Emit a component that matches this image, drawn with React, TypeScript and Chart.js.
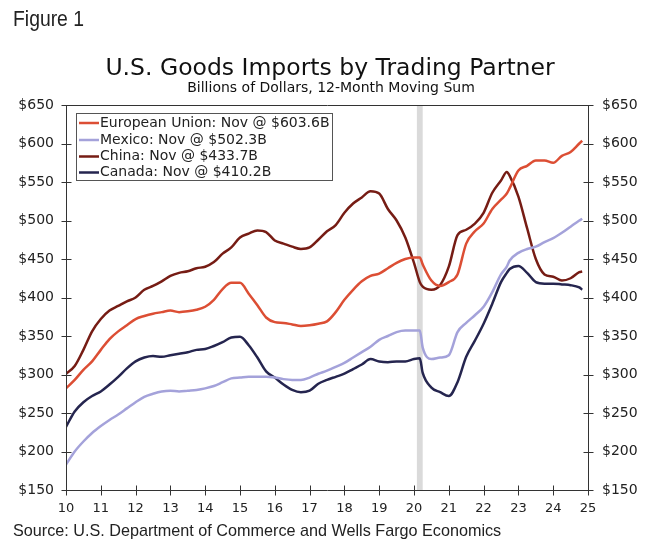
import React, { useEffect, useRef } from "react";
import { Chart, registerables } from "chart.js";

Chart.register(...registerables);

// ---- Data ----
const dates = [
  "2010-01", "2010-04", "2010-07", "2010-10",
  "2011-01", "2011-04", "2011-07", "2011-10",
  "2012-01", "2012-04", "2012-07", "2012-10",
  "2013-01", "2013-04", "2013-07", "2013-10",
  "2014-01", "2014-04", "2014-07", "2014-10",
  "2015-01", "2015-04", "2015-07", "2015-10",
  "2016-01", "2016-04", "2016-07", "2016-10",
  "2017-01", "2017-04", "2017-07", "2017-10",
  "2018-01", "2018-04", "2018-07", "2018-10",
  "2019-01", "2019-04", "2019-07", "2019-10",
  "2020-01", "2020-03", "2020-04", "2020-07", "2020-10",
  "2021-01", "2021-04", "2021-07", "2021-10",
  "2022-01", "2022-04", "2022-07", "2022-09", "2022-10",
  "2023-01", "2023-04", "2023-07", "2023-10",
  "2024-01", "2024-04", "2024-07", "2024-10", "2024-11",
];

const euValues = [
  282, 293, 306, 317,
  332, 346, 356, 364,
  372, 376, 379, 381,
  383, 381, 382, 384,
  388, 397, 411, 419,
  419, 405, 390, 374,
  368, 367, 365, 363,
  364, 366, 369, 381,
  397, 410, 421, 428,
  431, 438, 445, 450,
  452, 452, 443, 422, 415,
  420, 430, 470, 486,
  496, 515, 527, 535, 542,
  565, 571, 578, 578,
  575, 584, 589, 600, 603.6,
];

const mexicoValues = [
  183, 200, 213, 224,
  233, 241, 248, 256,
  264, 271, 275, 278,
  279, 278, 279, 280,
  282, 285, 290, 295,
  296, 297, 297, 297,
  296, 294, 293, 293,
  296, 301, 305, 310,
  315, 322, 329, 336,
  345, 350, 355, 357,
  357, 357, 335, 320, 322,
  325, 355, 367, 377,
  388, 407, 430, 440, 448,
  458, 463, 466, 472,
  477, 484, 492, 500, 502.3,
];

const chinaValues = [
  301, 311, 332, 356,
  372, 383, 389, 395,
  400, 410, 415, 421,
  428, 432, 434, 438,
  440, 446, 457, 465,
  478, 483, 487, 485,
  474, 470, 466, 463,
  465, 475, 486, 494,
  510, 522, 530, 538,
  535, 515, 500, 478,
  445, 420, 414, 410, 416,
  440, 481, 488, 496,
  510, 536, 552, 563, 558,
  531, 490, 450, 430,
  427, 422, 425, 433, 433.7,
];

const canadaValues = [
  232, 252, 264, 272,
  278, 287, 297, 308,
  317, 322, 324, 323,
  325, 327, 329, 332,
  333, 337, 342, 348,
  349, 338, 322, 304,
  296, 287, 280, 277,
  279, 288, 293, 297,
  301, 307, 313, 320,
  317, 316, 317, 317,
  320, 321, 302, 283, 277,
  272, 290, 323, 344,
  366, 392, 420, 432, 437,
  441, 432, 420, 418,
  418, 417, 416, 413, 410.2,
];

const seriesLabels = [
  "European Union: Nov @ $603.6B",
  "Mexico: Nov @ $502.3B",
  "China: Nov @ $433.7B",
  "Canada: Nov @ $410.2B",
];
const seriesColors = ["#dc4e34", "#a4a2da", "#761c14", "#25254f"];

const xTickValues = [10, 11, 12, 13, 14, 15, 16, 17, 18, 19, 20, 21, 22, 23, 24, 25];
const yTickValues = [150, 200, 250, 300, 350, 400, 450, 500, 550, 600, 650];

const shadeStart = "2020-02";
const shadeEnd = "2020-04";

const figureLabel = "Figure 1";
const titleText = "U.S. Goods Imports by Trading Partner";
const subtitleText = "Billions of Dollars, 12-Month Moving Sum";
const sourceText = "Source: U.S. Department of Commerce and Wells Fargo Economics";

function toYear(d: string): number {
  const [y, m] = d.split("-").map(Number);
  return y - 2000 + (m - 1) / 12;
}

const decorPlugin = {
  id: "decor",
  beforeDatasetsDraw(chart: any) {
    const { ctx, chartArea: a, scales } = chart;
    const xs = scales.x;
    ctx.save();
    const x0 = xs.getPixelForValue(toYear(shadeStart));
    const x1 = xs.getPixelForValue(toYear(shadeEnd));
    ctx.fillStyle = "#dadada";
    ctx.fillRect(x0, a.top, x1 - x0, a.bottom - a.top);
    ctx.restore();
  },
  afterDatasetsDraw(chart: any) {
    const { ctx, chartArea: a, scales } = chart;
    ctx.save();
    ctx.strokeStyle = "#333";
    ctx.lineWidth = 1;
    const L = Math.round(a.left) + 0.5;
    const R = Math.round(a.right) + 0.5;
    const T = Math.round(a.top) + 0.5;
    const B = Math.round(a.bottom) + 0.5;
    ctx.beginPath();
    ctx.moveTo(L, T); ctx.lineTo(R, T); ctx.lineTo(R, B); ctx.lineTo(L, B); ctx.closePath();
    ctx.stroke();
    ctx.beginPath();
    yTickValues.forEach((v) => {
      const y = Math.round(scales.y.getPixelForValue(v)) + 0.5;
      ctx.moveTo(L - 5, y); ctx.lineTo(L + 5, y);
      ctx.moveTo(R - 5, y); ctx.lineTo(R + 5, y);
    });
    xTickValues.forEach((v) => {
      const x = Math.round(scales.x.getPixelForValue(v)) + 0.5;
      ctx.moveTo(x, B - 5); ctx.lineTo(x, B + 5);
    });
    ctx.stroke();
    ctx.restore();
  },
  afterDraw(chart: any) {
    const { ctx } = chart;
    ctx.save();
    ctx.fillStyle = "#222";
    ctx.textBaseline = "alphabetic";
    ctx.save();
    ctx.font = "22px 'Liberation Sans'";
    ctx.translate(13, 26);
    ctx.scale(0.88, 1);
    ctx.fillText(figureLabel, 0, 0);
    ctx.restore();
    ctx.textAlign = "center";
    ctx.fillStyle = "#111";
    ctx.font = "23.5px 'DejaVu Sans'";
    ctx.fillText(titleText, 330, 75);
    ctx.font = "14px 'DejaVu Sans'";
    ctx.fillText(subtitleText, 331, 92);
    ctx.textAlign = "left";
    ctx.fillStyle = "#222";
    ctx.font = "16.2px 'Liberation Sans'";
    ctx.fillText(sourceText, 13, 536);
    const bx = 76.5, by = 113.5, bw = 256, bh = 67;
    ctx.fillStyle = "#fff";
    ctx.fillRect(bx, by, bw, bh);
    ctx.strokeStyle = "#555";
    ctx.lineWidth = 1;
    ctx.strokeRect(bx, by, bw, bh);
    ctx.font = "14px 'DejaVu Sans'";
    ctx.textBaseline = "middle";
    const rowY = [123, 140, 156.5, 172.5];
    seriesLabels.forEach((lab, i) => {
      ctx.strokeStyle = seriesColors[i];
      ctx.lineWidth = 2.5;
      ctx.beginPath();
      ctx.moveTo(79, rowY[i]);
      ctx.lineTo(99, rowY[i]);
      ctx.stroke();
      ctx.fillStyle = "#222";
      ctx.fillText(lab, 100, rowY[i]);
    });
    ctx.restore();
  },
};

export default function App() {
  const canvasRef = useRef<HTMLCanvasElement | null>(null);

  useEffect(() => {
    if (!canvasRef.current) return;
    const seriesValues = [euValues, mexicoValues, chinaValues, canadaValues];
    const datasets = seriesValues.map((vals, i) => ({
      label: seriesLabels[i],
      data: dates.map((d, j) => ({ x: toYear(d), y: vals[j] })),
      borderColor: seriesColors[i],
      backgroundColor: seriesColors[i],
      borderWidth: 2.5,
      pointRadius: 0,
      cubicInterpolationMode: "monotone" as const,
      yAxisID: "y",
    }));
    const tickFont = { family: "'DejaVu Sans'", size: 14 };
    const chart = new Chart(canvasRef.current, {
      type: "line",
      data: { datasets },
      options: {
        responsive: false,
        animation: false,
        devicePixelRatio: 1,
        layout: { padding: { top: 105, left: 0, right: 0, bottom: 0 } },
        plugins: {
          legend: { display: false },
          tooltip: { enabled: false },
          title: { display: false },
        },
        scales: {
          x: {
            type: "linear",
            min: 10,
            max: 25,
            afterFit: (s: any) => { s.height = 58; },
            afterBuildTicks: (s: any) => { s.ticks = xTickValues.map((v) => ({ value: v })); },
            grid: { display: false, drawTicks: false },
            border: { display: false },
            ticks: {
              padding: 11,
              font: { family: "'DejaVu Sans'", size: 13 },
              color: "#222",
              maxRotation: 0,
              autoSkip: false,
              callback: (v: any) => String(v),
            },
          },
          y: {
            type: "linear",
            position: "left",
            min: 150,
            max: 650,
            afterFit: (s: any) => { s.width = 66; },
            afterBuildTicks: (s: any) => { s.ticks = yTickValues.map((v) => ({ value: v })); },
            grid: { display: false, drawTicks: false },
            border: { display: false },
            ticks: { padding: 12, font: tickFont, color: "#222", callback: (v: any) => "$" + v },
          },
          y2: {
            type: "linear",
            position: "right",
            min: 150,
            max: 650,
            afterFit: (s: any) => { s.width = 61; },
            afterBuildTicks: (s: any) => { s.ticks = yTickValues.map((v) => ({ value: v })); },
            grid: { display: false, drawTicks: false },
            border: { display: false },
            ticks: { padding: 14, font: tickFont, color: "#222", callback: (v: any) => "$" + v },
          },
        },
      },
      plugins: [decorPlugin],
    });
    return () => chart.destroy();
  }, []);

  return (
    <div style={{ position: "absolute", left: 0, top: 0, width: 649, height: 548, background: "#fff" }}>
      <canvas ref={canvasRef} width={649} height={548} style={{ display: "block" }} />
    </div>
  );
}
